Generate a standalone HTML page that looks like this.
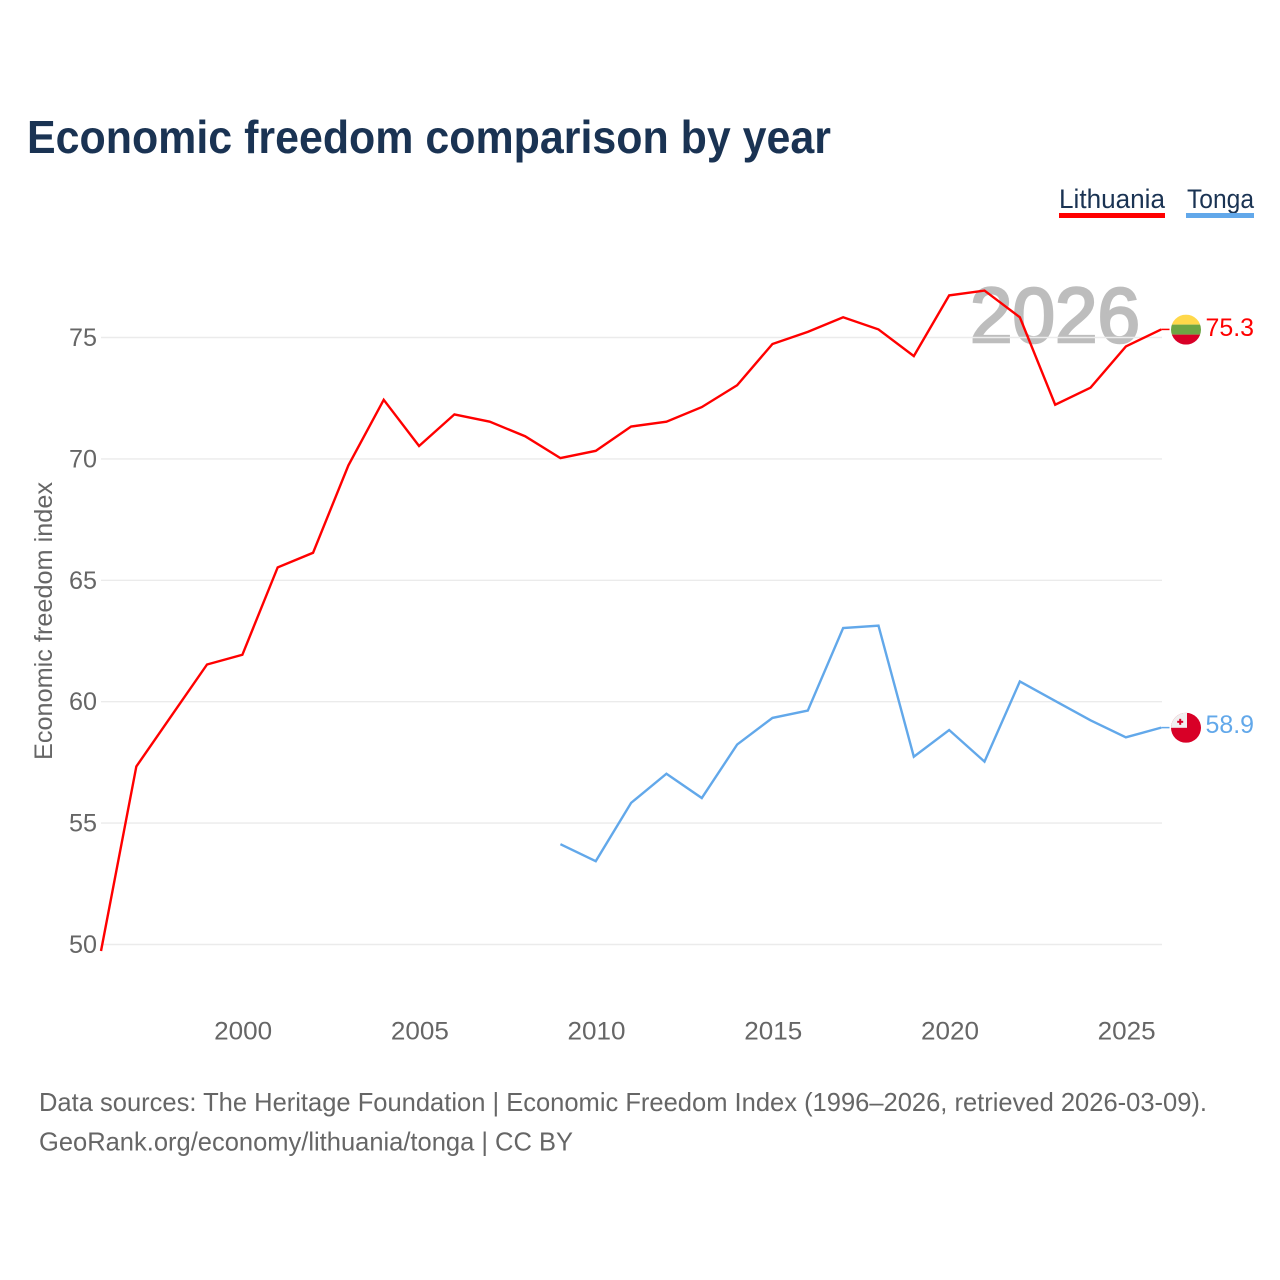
<!DOCTYPE html>
<html lang="en">
<head>
<meta charset="utf-8">
<title>Economic freedom comparison by year</title>
<style>
html,body{margin:0;padding:0;background:#fff;}
svg{display:block;font-family:"Liberation Sans",sans-serif;}
</style>
</head>
<body>
<svg id="chart" xmlns="http://www.w3.org/2000/svg" width="1280" height="1280" viewBox="0 0 1280 1280">
  <rect x="0" y="0" width="1280" height="1280" fill="#fff"/>
  <text x="27" y="153" font-size="46" font-weight="700" fill="#1a3353" textLength="804" lengthAdjust="spacingAndGlyphs">Economic freedom comparison by year</text>

  <g>
    <text x="1059" y="208" font-size="27" fill="#1a3353" textLength="106" lengthAdjust="spacingAndGlyphs">Lithuania</text>
    <rect x="1059" y="213" width="106" height="5" fill="#ff0000"/>
  </g>
  <g>
    <text x="1187" y="208" font-size="27" fill="#1a3353" textLength="67" lengthAdjust="spacingAndGlyphs">Tonga</text>
    <rect x="1186" y="213" width="68" height="5" fill="#62a8ea"/>
  </g>

  <text x="970" y="342" font-size="78" font-weight="400" fill="#bdbdbd" stroke="#bdbdbd" stroke-width="2.6" textLength="170" lengthAdjust="spacingAndGlyphs">2026</text>

  <g id="grid"></g>
  <g id="yticks"></g>
  <g id="xticks"></g>
  <text transform="translate(52,621) rotate(-90)" text-anchor="middle" font-size="25" fill="#666666" textLength="278" lengthAdjust="spacingAndGlyphs">Economic freedom index</text>
  <g id="series"></g>
  <g id="ends"></g>

  <text x="39" y="1111" font-size="26" fill="#666666" textLength="1168" lengthAdjust="spacingAndGlyphs">Data sources: The Heritage Foundation | Economic Freedom Index (1996–2026, retrieved 2026-03-09).</text>
  <text x="39" y="1150.5" font-size="26" fill="#666666" textLength="534" lengthAdjust="spacingAndGlyphs">GeoRank.org/economy/lithuania/tonga | CC BY</text>
</svg>
<script>
const yTickValues = [50, 55, 60, 65, 70, 75];
const xTickYears = [2000, 2005, 2010, 2015, 2020, 2025];
const lithuaniaYears = [1996, 1997, 1998, 1999, 2000, 2001, 2002, 2003, 2004, 2005, 2006, 2007, 2008, 2009, 2010, 2011, 2012, 2013, 2014, 2015, 2016, 2017, 2018, 2019, 2020, 2021, 2022, 2023, 2024, 2025, 2026];
const lithuaniaValues = [49.7, 57.3, 59.4, 61.5, 61.9, 65.5, 66.1, 69.7, 72.4, 70.5, 71.8, 71.5, 70.9, 70.0, 70.3, 71.3, 71.5, 72.1, 73.0, 74.7, 75.2, 75.8, 75.3, 74.2, 76.7, 76.9, 75.8, 72.2, 72.9, 74.6, 75.3];
const tongaYears = [2009, 2010, 2011, 2012, 2013, 2014, 2015, 2016, 2017, 2018, 2019, 2020, 2021, 2022, 2023, 2024, 2025, 2026];
const tongaValues = [54.1, 53.4, 55.8, 57.0, 56.0, 58.2, 59.3, 59.6, 63.0, 63.1, 57.7, 58.8, 57.5, 60.8, 60.0, 59.2, 58.5, 58.9];

const NS = 'http://www.w3.org/2000/svg';
const xScale = year => 101 + (year - 1996) * 35.34;
const yScale = value => 944.5 - (value - 50) * 24.28;
const lineOffset = -0.8;
const plotLeft = 101;
const plotRight = 1162;

function mk(tag, attrs, parent, text) {
  const el = document.createElementNS(NS, tag);
  for (const k in attrs) el.setAttribute(k, attrs[k]);
  if (text !== undefined) el.textContent = text;
  parent.appendChild(el);
  return el;
}

const grid = document.getElementById('grid');
const yticks = document.getElementById('yticks');
const xticks = document.getElementById('xticks');
const series = document.getElementById('series');
const ends = document.getElementById('ends');

yTickValues.forEach(v => {
  const line = mk('line', {x1: plotLeft, x2: plotRight, y1: yScale(v), y2: yScale(v), stroke: '#ebebeb', 'stroke-width': 1.4}, grid);
  
  
  const label = mk('text', {x: 97, y: yScale(v) + 8.5, 'text-anchor': 'end', 'font-size': 25, fill: '#666666', textLength: 28, lengthAdjust: 'spacingAndGlyphs'}, yticks, String(v));
  
  
});

xTickYears.forEach(y => {
  const label = mk('text', {x: xScale(y) + 0.8, y: 1039.5, 'text-anchor': 'middle', 'font-size': 25, fill: '#666666', textLength: 58, lengthAdjust: 'spacingAndGlyphs'}, xticks, String(y));
  
  
});

function drawSeries(years, values, color, name) {
  const pts = years.map((y, i) => xScale(y).toFixed(2) + ',' + (yScale(values[i]) + lineOffset).toFixed(2)).join(' ');
  const line = mk('polyline', {points: pts, fill: 'none', stroke: color, 'stroke-width': 2.4, 'stroke-linejoin': 'miter'}, series);
  
  
}
drawSeries(lithuaniaYears, lithuaniaValues, '#ff0000', 'lithuania');
drawSeries(tongaYears, tongaValues, '#62a8ea', 'tonga');

function drawEnd(years, values, color, name, labelShift) {
  const last = values.length - 1;
  const x = xScale(years[last]);
  const y = yScale(values[last]) + lineOffset;
  const stub = mk('line', {x1: x, x2: 1169.5, y1: y, y2: y, stroke: color, 'stroke-width': 1.5}, ends);
  
  
  const cx = 1186;
  const r = 15;
  const flag = mk('g', {transform: 'translate(' + cx + ',' + (y + 0.2) + ')'}, ends);
  
  
  const clipId = 'clip-' + name;
  const clip = mk('clipPath', {id: clipId}, flag);
  mk('circle', {cx: 0, cy: 0, r: r}, clip);
  const body = mk('g', {'clip-path': 'url(#' + clipId + ')'}, flag);
  if (name === 'lithuania') {
    mk('rect', {x: -r, y: -r, width: 2 * r, height: 10, fill: '#ffd84a'}, body);
    mk('rect', {x: -r, y: -5, width: 2 * r, height: 10, fill: '#6da544'}, body);
    mk('rect', {x: -r, y: 5, width: 2 * r, height: 10, fill: '#d80027'}, body);
  } else {
    mk('rect', {x: -r, y: -r, width: 2 * r, height: 2 * r, fill: '#d80027'}, body);
    mk('rect', {x: -r, y: -r, width: r + 1, height: r, fill: '#f0f0f0'}, body);
    mk('rect', {x: -6.8, y: -9, width: 2, height: 6, fill: '#d80027'}, body);
    mk('rect', {x: -8.8, y: -7, width: 6, height: 2, fill: '#d80027'}, body);
  }
  const val = mk('text', {x: 1205.5, y: y + labelShift, 'font-size': 25, fill: color, textLength: 48.5, lengthAdjust: 'spacingAndGlyphs'}, ends, values[last].toFixed(1));
  
  
}
drawEnd(lithuaniaYears, lithuaniaValues, '#ff0000', 'lithuania', 6.5);
drawEnd(tongaYears, tongaValues, '#62a8ea', 'tonga', 5.5);
</script>
</body>
</html>
